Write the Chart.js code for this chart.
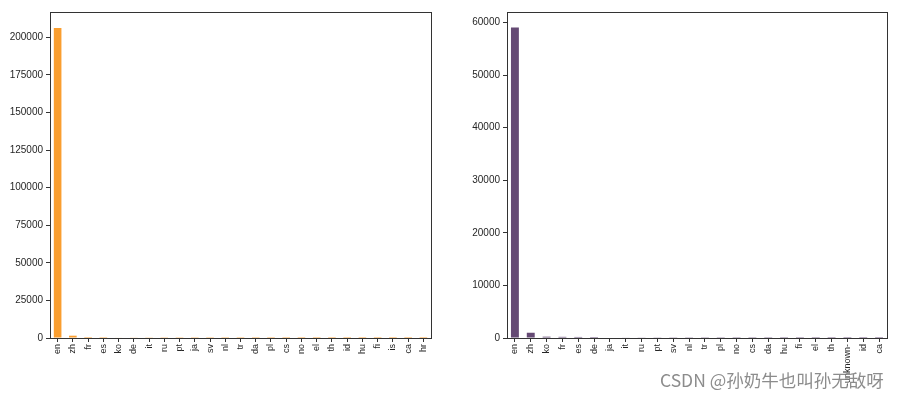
<!DOCTYPE html>
<html>
<head>
<meta charset="utf-8">
<script src="https://cdn.jsdelivr.net/npm/chart.js@4"></script>
<style>
  body { margin: 0; background: #fff; width: 903px; height: 400px; position: relative; overflow: hidden; }
  .box { position: absolute; top: 0; height: 400px; }
  #wm { position: absolute; left: 660px; top: 367px; font: 17.5px "Noto Sans CJK SC", "Liberation Sans", sans-serif;
        color: rgba(120,120,120,0.85); white-space: nowrap; }
</style>
</head>
<body>
<div class="box" style="left:0;width:440px"><canvas id="c1"></canvas></div>
<div class="box" style="left:460px;width:440px"><canvas id="c2"></canvas></div>
<div id="wm">CSDN @孙奶牛也叫孙无敌呀</div>
<script>
// 左图：各语言数量
const langsA = ["en","zh","fr","es","ko","de","it","ru","pt","ja","sv","nl","tr","da","pl","cs","no","el","th","id","hu","fi","is","ca","hr"];
const countsA = [206200,1530,660,600,300,250,200,150,130,120,100,90,80,70,60,50,45,40,35,30,25,20,15,12,10];
const ticksA = [0,25000,50000,75000,100000,125000,150000,175000,200000];
// 右图
const langsB = ["en","zh","ko","fr","es","de","ja","it","ru","pt","sv","nl","tr","pl","no","cs","da","hu","fi","el","th","-unknown-","id","ca"];
const countsB = [59050,1000,250,220,200,190,90,80,70,60,50,45,40,35,30,28,25,20,18,15,12,10,8,6];
const ticksB = [0,10000,20000,30000,40000,50000,60000];

const font = { family: "'Liberation Sans', Arial, sans-serif", size: 10 };
const ink = "#262626";

// marco de los cuatro lados, estilo matplotlib
const frame = {
  id: "frame",
  afterDraw(chart) {
    const { ctx, chartArea: a } = chart;
    ctx.save();
    ctx.strokeStyle = "#333";
    ctx.lineWidth = 1;
    ctx.strokeRect(Math.round(a.left) + 0.5, Math.round(a.top) + 0.5,
                   Math.round(a.right - a.left), Math.round(a.bottom - a.top));
    ctx.restore();
  }
};

function barChart(id, labels, data, color, ymax, yticks, yw, padRight) {
  new Chart(document.getElementById(id), {
    type: "bar",
    data: { labels, datasets: [{ data, backgroundColor: color, barPercentage: 0.5, categoryPercentage: 1 }] },
    options: {
      responsive: true,
      maintainAspectRatio: false,
      animation: false,
      layout: { padding: { top: 12, right: padRight, left: 0, bottom: 0 } },
      plugins: { legend: { display: false }, tooltip: { enabled: false } },
      scales: {
        x: {
          offset: true,
          grid: { display: true, drawOnChartArea: false, tickLength: 4, color: "#333", offset: false },
          border: { display: false },
          ticks: { color: ink, font: { ...font, size: 9 }, minRotation: 90, maxRotation: 90, autoSkip: false, padding: 2 },
          afterFit: s => { s.height = 62; }
        },
        y: {
          min: 0, max: ymax,
          grid: { display: true, drawOnChartArea: false, tickLength: 4, color: "#333" },
          border: { display: false },
          ticks: { color: ink, font, padding: 3, autoSkip: false, callback: v => String(v) },
          afterBuildTicks: s => { s.ticks = yticks.map(v => ({ value: v })); },
          afterFit: s => { s.width = yw; }
        }
      }
    },
    plugins: [frame]
  });
}

barChart("c1", langsA, countsA, "#fa9e2f", 216900, ticksA, 50, 9);
barChart("c2", langsB, countsB, "#654a74", 62020, ticksB, 47, 13);
</script>
</body>
</html>
